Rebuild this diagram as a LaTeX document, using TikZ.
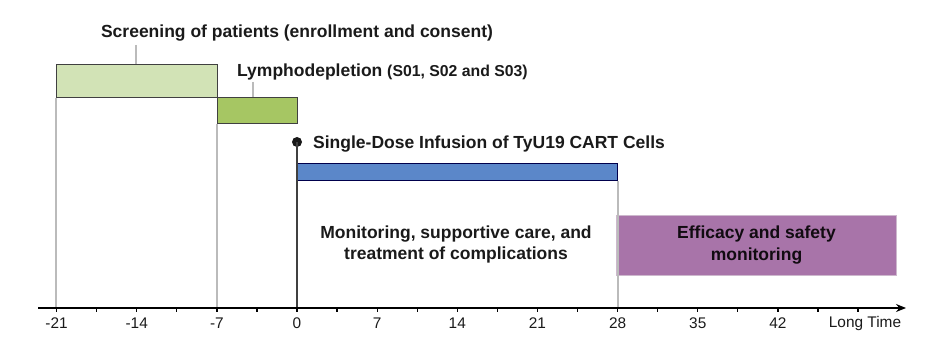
\documentclass[tikz,border=0pt]{standalone}
\usepackage{fontspec}
\setmainfont{Liberation Sans}
\usetikzlibrary{arrows.meta}
\definecolor{scrfill}{HTML}{D2E3B6}
\definecolor{lymfill}{HTML}{A6C663}
\definecolor{infblue}{HTML}{5B87C9}
\definecolor{effpurple}{HTML}{A874A9}
\definecolor{effborder}{HTML}{CDB8CD}
\definecolor{guide}{HTML}{BBBBBB}
\definecolor{txt}{HTML}{1A1A1A}
\begin{document}
\begin{tikzpicture}[x=1pt,y=-1pt,
  phasebox/.style={draw=black!75, line width=0.9pt, inner sep=0pt, anchor=north west},
  guideline/.style={draw=guide, line width=1.3pt},
  biglabel/.style={font=\fontsize{17.5}{21}\selectfont\bfseries, text=txt, inner sep=0pt},
  ticklabel/.style={font=\fontsize{15.4}{18}\selectfont, text=txt, inner sep=0pt},
]
\useasboundingbox (0,0) rectangle (934,358);

% boxes
\node[phasebox, fill=scrfill, minimum width=161pt, minimum height=33pt] (scr) at (56,64) {};
\node[phasebox, fill=lymfill, minimum width=80pt, minimum height=26pt] (lym) at (217,97) {};
\node[phasebox, draw=black!70!blue, fill=infblue, minimum width=320pt, minimum height=17pt] (inf) at (297,163) {};
\node[phasebox, draw=effborder, line width=1pt, fill=effpurple, minimum width=280pt, minimum height=60pt] (eff) at (616,215) {};

% axis
\coordinate (axstart) at (38,308);
\coordinate (axend) at (906,308);

% guide lines
\draw[guideline] (scr.south west) -- (scr.south west |- axstart);
\draw[guideline] (lym.south west) -- (lym.south west |- axstart);
\draw[guideline] (inf.south east) -- (inf.south east |- axstart);

% leader lines
\coordinate (scrlead) at (136,45);
\coordinate (lymlead) at (253,82);
\draw[guideline, line width=1.1pt] (scrlead) -- (scrlead |- scr.north);
\draw[guideline, line width=1.1pt] (lymlead) -- (lymlead |- lym.north);

% infusion dot and line
\node[circle, fill=black!90, inner sep=0pt, minimum size=10pt] (dot) at (297,142) {};
\draw[black!75, line width=1.2pt] (dot.center) -- (dot.center |- axstart);

% labels
\node[biglabel] (scrlab) at (297,33) {Screening of patients (enrollment and consent)};
\node[biglabel, anchor=west] (lymlab) at (237,72) {Lymphodepletion {\fontsize{15.8}{19}\selectfont (S01, S02 and S03)}};
\node[biglabel, anchor=west] (inflab) at (313,144) {Single-Dose Infusion of TyU19 CART Cells};
\node[biglabel, align=center] (monlab) at (456,244) {Monitoring, supportive care, and\\treatment of complications};
\node[biglabel, align=center, text=black!90!effpurple, font=\fontsize{17.5}{22}\selectfont\bfseries] (efflab) at (eff.center) {Efficacy and safety\\monitoring};

% axis line
\draw[line width=1.5pt, -{Stealth[length=10pt, width=8pt]}] (axstart) -- (axend);
\foreach \d in {-21,-17.5,...,49} {
  \draw[line width=1.3pt] ({297+11.45*\d},308) -- ({297+11.45*\d},311.5);
}
\foreach \d in {-21,-14,-7,0,7,14,21,28,35,42} {
  \node[ticklabel] (t\d) at ({297+11.45*\d},323.5) {\d};
}
\node[ticklabel] (tlong) at (865,323.5) {Long Time};
\end{tikzpicture}
\end{document}
